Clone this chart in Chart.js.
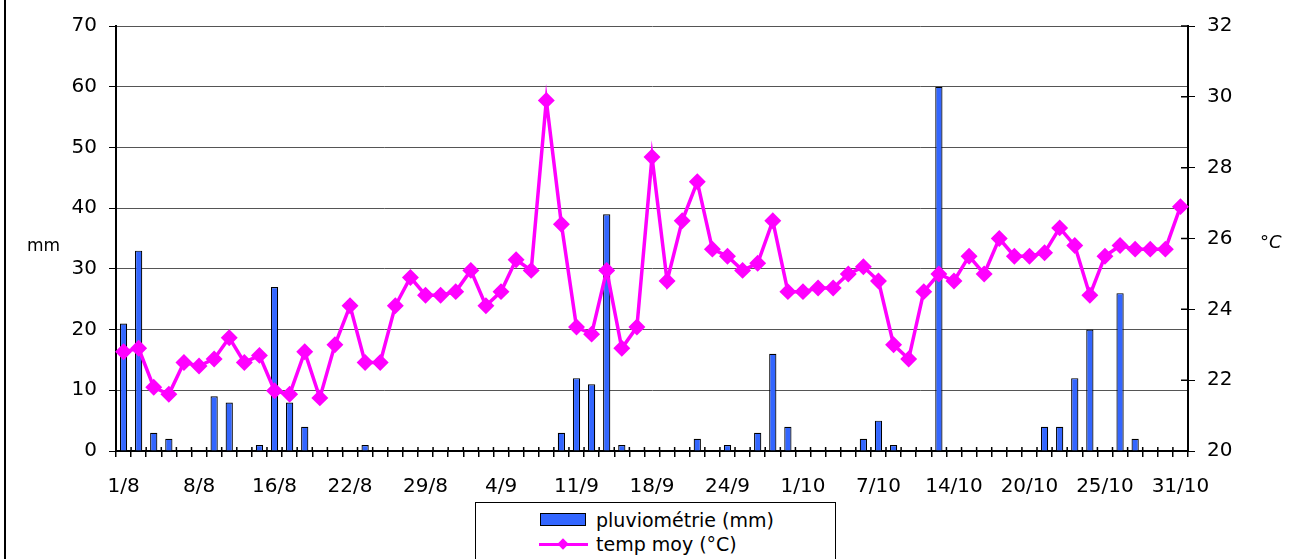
<!DOCTYPE html>
<html>
<head>
<meta charset="utf-8">
<script src="https://cdn.jsdelivr.net/npm/chart.js@4.4.0/dist/chart.umd.min.js"></script>
<style>
  html, body { margin: 0; padding: 0; background: #fff; }
  #wrap { position: relative; width: 1294px; height: 559px; overflow: hidden; font-family: "DejaVu Sans", sans-serif; color: #000; }
  #frame { position: absolute; left: 4px; top: 0; width: 2px; height: 559px; background: #000; }
  #legend { position: absolute; left: 475px; top: 502px; width: 359px; height: 80px; border: 1px solid #000; background: #fff; }
  .item { position: absolute; left: 0; width: 100%; height: 24px; }
  .swatch { position: absolute; }
  .txt { position: absolute; font-size: 19px; line-height: 24px; white-space: nowrap; }
  .axt { position: absolute; line-height: 20px; white-space: nowrap; }
</style>
</head>
<body>
<div id="wrap">
  <canvas id="chart" width="1294" height="559"></canvas>
  <div id="frame"></div>
  <div class="axt" style="left:27px; top:235px; font-size:17px;">mm</div>
  <div class="axt" style="left:1260px; top:232px; font-size:18px; font-style:italic;">°C</div>
  <div id="legend"></div>
</div>
<script>
// tick labels shown every 5th category
const tickLabels = ['1/8', '8/8', '16/8', '22/8', '29/8', '4/9', '11/9', '18/9', '24/9',
  '1/10', '7/10', '14/10', '20/10', '25/10', '31/10'];

// pluviométrie (mm), one per category
const rain = [21, 33, 3, 2, 0, 0, 9, 8, 0, 1,
  27, 8, 4, 0, 0, 0, 1, 0, 0, 0,
  0, 0, 0, 0, 0, 0, 0, 0, 0, 3,
  12, 11, 39, 1, 0, 0, 0, 0, 2, 0,
  1, 0, 3, 16, 4, 0, 0, 0, 0, 2,
  5, 1, 0, 0, 60, 0, 0, 0, 0, 0,
  0, 4, 4, 12, 20, 0, 26, 2, 0, 0,
  0];

// temp moy (°C)
const temp = [22.8, 22.9, 21.8, 21.6, 22.5, 22.4, 22.6, 23.2, 22.5, 22.7,
  21.7, 21.6, 22.8, 21.5, 23.0, 24.1, 22.5, 22.5, 24.1, 24.9,
  24.4, 24.4, 24.5, 25.1, 24.1, 24.5, 25.4, 25.1, 29.9, 26.4,
  23.5, 23.3, 25.1, 22.9, 23.5, 28.3, 24.8, 26.5, 27.6, 25.7,
  25.5, 25.1, 25.3, 26.5, 24.5, 24.5, 24.6, 24.6, 25.0, 25.2,
  24.8, 23.0, 22.6, 24.5, 25.0, 24.8, 25.5, 25.0, 26.0, 25.5,
  25.5, 25.6, 26.3, 25.8, 24.4, 25.5, 25.8, 25.7, 25.7, 25.7,
  26.9];

const labels = rain.map((v, i) => (i % 5 === 0 ? tickLabels[i / 5] : ''));

const tickFont = { family: 'DejaVu Sans', size: 20 };

// short tick marks that cross the axis lines (inside part)
const innerTicks = {
  id: 'innerTicks',
  afterDraw(chart) {
    const ctx = chart.ctx;
    const x = chart.scales.x, y1 = chart.scales.y1;
    ctx.save();
    ctx.strokeStyle = '#000';
    ctx.lineWidth = 1.5;
    ctx.beginPath();
    const n = chart.data.labels.length;
    for (let i = 0; i <= n; i++) {
      const px = x.left + i * x.width / n;
      ctx.moveTo(px, x.top);
      ctx.lineTo(px, x.top - 4);
    }
    y1.ticks.forEach(t => {
      const py = y1.getPixelForValue(t.value);
      ctx.moveTo(y1.left, py);
      ctx.lineTo(y1.left - 7, py);
    });
    ctx.stroke();
    ctx.restore();
  }
};

const chart = new Chart(document.getElementById('chart'), {
  data: {
    labels: labels,
    datasets: [
      {
        type: 'bar',
        label: 'pluviométrie (mm)',
        data: rain,
        yAxisID: 'y',
        backgroundColor: '#3366ff',
        borderColor: '#000',
        borderWidth: 1.2,
        barPercentage: 0.48,
        categoryPercentage: 1,
        order: 1
      },
      {
        type: 'line',
        label: 'temp moy (°C)',
        data: temp,
        yAxisID: 'y1',
        borderColor: '#ff00ff',
        backgroundColor: '#ff00ff',
        borderWidth: 3.5,
        pointStyle: 'rectRot',
        pointRadius: 6,
        pointBackgroundColor: '#ff00ff',
        pointBorderColor: '#ff00ff',
        tension: 0,
        order: 0
      }
    ]
  },
  options: {
    responsive: false,
    animation: false,
    devicePixelRatio: 1,
    layout: { padding: { top: 26, left: 0, right: 0, bottom: 0 } },
    plugins: { legend: { display: false }, tooltip: { enabled: false } },
    scales: {
      x: {
        grid: { offset: true, drawOnChartArea: false, tickLength: 6, color: '#000', lineWidth: 1.5 },
        border: { color: '#000', width: 2 },
        ticks: { font: tickFont, color: '#000', autoSkip: false, maxRotation: 0, padding: 18 },
        afterFit: s => { s.height = 108; }
      },
      y: {
        position: 'left',
        min: 0,
        max: 70,
        ticks: { stepSize: 10, font: tickFont, color: '#000', padding: 12 },
        grid: { color: '#555', lineWidth: 1, tickColor: '#000', tickLength: 7 },
        border: { color: '#000', width: 2 },
        afterFit: s => { s.width = 116; }
      },
      y1: {
        position: 'right',
        min: 20,
        max: 32,
        ticks: { stepSize: 2, font: tickFont, color: '#000', padding: 12 },
        grid: { drawOnChartArea: false, tickColor: '#000', tickLength: 7 },
        border: { color: '#000', width: 2 },
        afterFit: s => { s.width = 106; }
      }
    }
  },
  plugins: [innerTicks]
});

// legend built from the datasets
const legend = document.getElementById('legend');
chart.data.datasets.forEach((ds, i) => {
  const item = document.createElement('div');
  item.className = 'item';
  item.style.top = (i === 0 ? 5 : 29) + 'px';
  const sw = document.createElement('div');
  sw.className = 'swatch';
  if (ds.type === 'bar') {
    sw.style.cssText = 'left:64px; top:5px; width:44px; height:11px; background:' + ds.backgroundColor + '; border:1px solid #000;';
  } else {
    sw.style.cssText = 'left:63px; top:11px; width:49px; height:3px; background:' + ds.borderColor + ';';
    const d = document.createElement('div');
    d.style.cssText = 'position:absolute; left:20px; top:-3px; width:8px; height:8px; background:' + ds.borderColor + '; transform:rotate(45deg);';
    sw.appendChild(d);
  }
  const t = document.createElement('div');
  t.className = 'txt';
  t.style.left = '120px';
  t.style.top = '0px';
  t.textContent = ds.label;
  item.appendChild(sw);
  item.appendChild(t);
  legend.appendChild(item);
});
</script>
</body>
</html>
